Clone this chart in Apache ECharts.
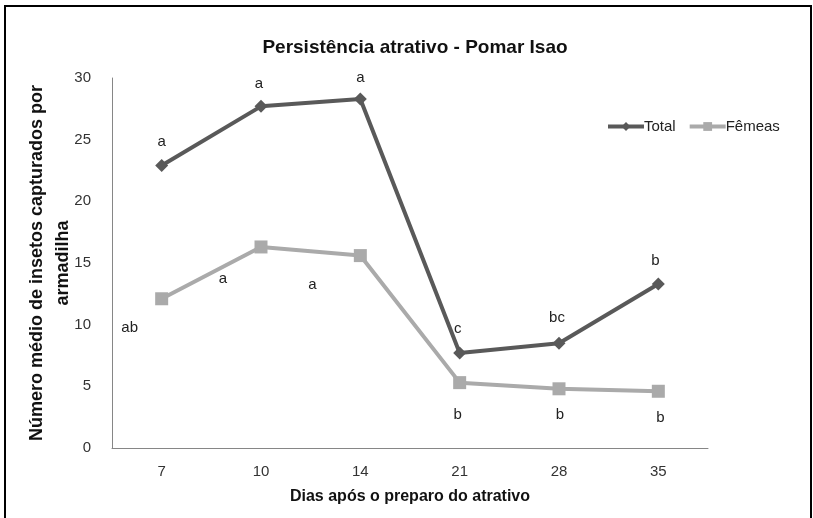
<!DOCTYPE html>
<html>
<head>
<meta charset="utf-8">
<script src="https://cdn.jsdelivr.net/npm/echarts@6/dist/echarts.min.js"></script>
<style>html,body{margin:0;padding:0;background:#fff;}#c{width:813px;height:518px;}</style>
</head>
<body>
<div id="c"></div>
<script>
var categories = ['7', '10', '14', '21', '28', '35'];
var totalValues = [22.9, 27.7, 28.3, 7.7, 8.5, 13.3];
var femeasValues = [12.1, 16.3, 15.6, 5.3, 4.8, 4.6];
var totalLetters = ['a', 'a', 'a', 'c', 'bc', 'b'];
var femeasLetters = ['ab', 'a', 'a', 'b', 'b', 'b'];
var yTicks = [0, 5, 10, 15, 20, 25, 30];

var totalOffsets = [[0, -24], [-2, -23], [0, -21], [-2, -24], [-2, -25], [-3, -23]];
var femeasOffsets = [[-32, 29], [-38, 32], [-48, 29], [-2, 32], [1, 26], [2, 27]];

function buildData(values, letters, offsets) {
  return values.map(function (v, i) {
    return {
      value: v,
      label: {
        show: true,
        position: 'inside',
        offset: offsets[i],
        formatter: letters[i],
        fontFamily: 'Liberation Sans',
        fontSize: 15,
        color: '#222'
      }
    };
  });
}

var chart = echarts.init(document.getElementById('c'), null, {renderer: 'canvas'});
chart.setOption({
  backgroundColor: '#fff',
  animation: false,
  title: {
    text: 'Persistência atrativo - Pomar Isao',
    left: 410,
    textAlign: 'center',
    top: 33,
    textStyle: {fontFamily: 'Liberation Sans', fontWeight: 'bold', fontSize: 19, color: '#111'}
  },
  legend: {
    left: 601,
    top: 114,
    itemWidth: 36,
    itemHeight: 11,
    itemGap: 12,
    textStyle: {fontFamily: 'Liberation Sans', fontSize: 15, color: '#222', padding: [0, 0, 0, -5]},
    data: [
      {name: 'Total', lineStyle: {width: 4}},
      {name: 'Fêmeas', lineStyle: {width: 4}}
    ]
  },
  grid: {left: 112, right: 105, top: 78, bottom: 70, containLabel: false},
  xAxis: {
    type: 'category',
    data: categories,
    boundaryGap: true,
    axisLine: {lineStyle: {color: '#868686', width: 1}},
    axisTick: {show: false},
    axisLabel: {margin: 16, fontFamily: 'Liberation Sans', fontSize: 15, color: '#333'},
    name: 'Dias após o preparo do atrativo',
    nameLocation: 'middle',
    nameGap: 41,
    nameMoveOverlap: false,
    nameTextStyle: {fontFamily: 'Liberation Sans', fontWeight: 'bold', fontSize: 16, color: '#111'}
  },
  yAxis: {
    type: 'value',
    min: yTicks[0],
    max: yTicks[yTicks.length - 1],
    interval: yTicks[1] - yTicks[0],
    splitLine: {show: false},
    axisLine: {show: true, lineStyle: {color: '#868686', width: 1}},
    axisTick: {show: false},
    axisLabel: {margin: 21, fontFamily: 'Liberation Sans', fontSize: 15, color: '#333'},
    name: 'Número médio de insetos capturados por\narmadilha',
    nameLocation: 'middle',
    nameRotate: 90,
    nameGap: 36,
    nameMoveOverlap: false,
    nameTextStyle: {fontFamily: 'Liberation Sans', fontWeight: 'bold', fontSize: 18, color: '#111', lineHeight: 26, align: 'center'}
  },
  series: [
    {
      name: 'Total',
      type: 'line',
      data: buildData(totalValues, totalLetters, totalOffsets),
      symbol: 'diamond',
      symbolSize: 13,
      lineStyle: {color: '#595959', width: 4},
      itemStyle: {color: '#595959'},
      z: 3
    },
    {
      name: 'Fêmeas',
      type: 'line',
      data: buildData(femeasValues, femeasLetters, femeasOffsets),
      symbol: 'rect',
      symbolSize: 13,
      lineStyle: {color: '#aaaaaa', width: 4},
      itemStyle: {color: '#aaaaaa'},
      z: 2
    }
  ],
  graphic: [
    {type: 'rect', shape: {x: 5, y: 6, width: 806, height: 530}, style: {fill: 'none', stroke: '#000', lineWidth: 2}, silent: true},
    {type: 'text', x: 317, y: 1, style: {text: 'Ç', font: 'bold 16px Liberation Sans', fill: '#000', textAlign: 'center', textVerticalAlign: 'bottom'}, silent: true}
  ]
});
</script>
</body>
</html>
